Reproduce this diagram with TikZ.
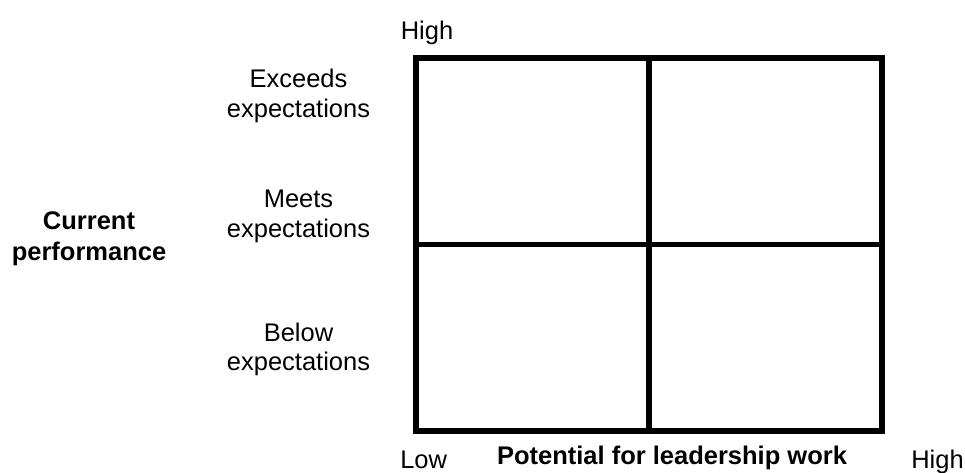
\documentclass[tikz,border=0pt]{standalone}
\usepackage{fontspec}
\setmainfont{Liberation Sans}
\begin{document}
\begin{tikzpicture}[x=1pt,y=-1pt,
  lbl/.style={inner sep=0pt, align=center, anchor=base, font=\fontsize{25.5}{29.3}\selectfont},
  blbl/.style={lbl, font=\fontsize{25.5}{30.5}\selectfont\bfseries},
  gridline/.style={line width=5.5pt, draw=black}]
\useasboundingbox (0,0) rectangle (965,472);
% grid
\coordinate (tl) at (416,57.8);
\coordinate (br) at (882,431);
\coordinate (tm) at (649,57.8);
\coordinate (bm) at (649,431);
\coordinate (ml) at (416,244.4);
\coordinate (mr) at (882,244.4);
\draw[gridline] (tl) rectangle (br);
\draw[gridline] (tm) -- (bm);
\draw[gridline] (ml) -- (mr);
% labels (anchor=base is the baseline of the last line)
\node[lbl] (hightop) at (427,39) {High};
\node[lbl] (exceeds) at (298.5,117) {Exceeds\\expectations};
\node[lbl] (meets) at (298.5,237) {Meets\\expectations};
\node[lbl] (below) at (298.5,370.5) {Below\\expectations};
\node[blbl] (current) at (89,260) {Current\\performance};
\node[lbl] (low) at (423.7,468.7) {Low};
\node[blbl] (potential) at (672,464) {Potential for leadership work};
\node[lbl] (highright) at (937.5,468.7) {High};
\end{tikzpicture}
\end{document}
